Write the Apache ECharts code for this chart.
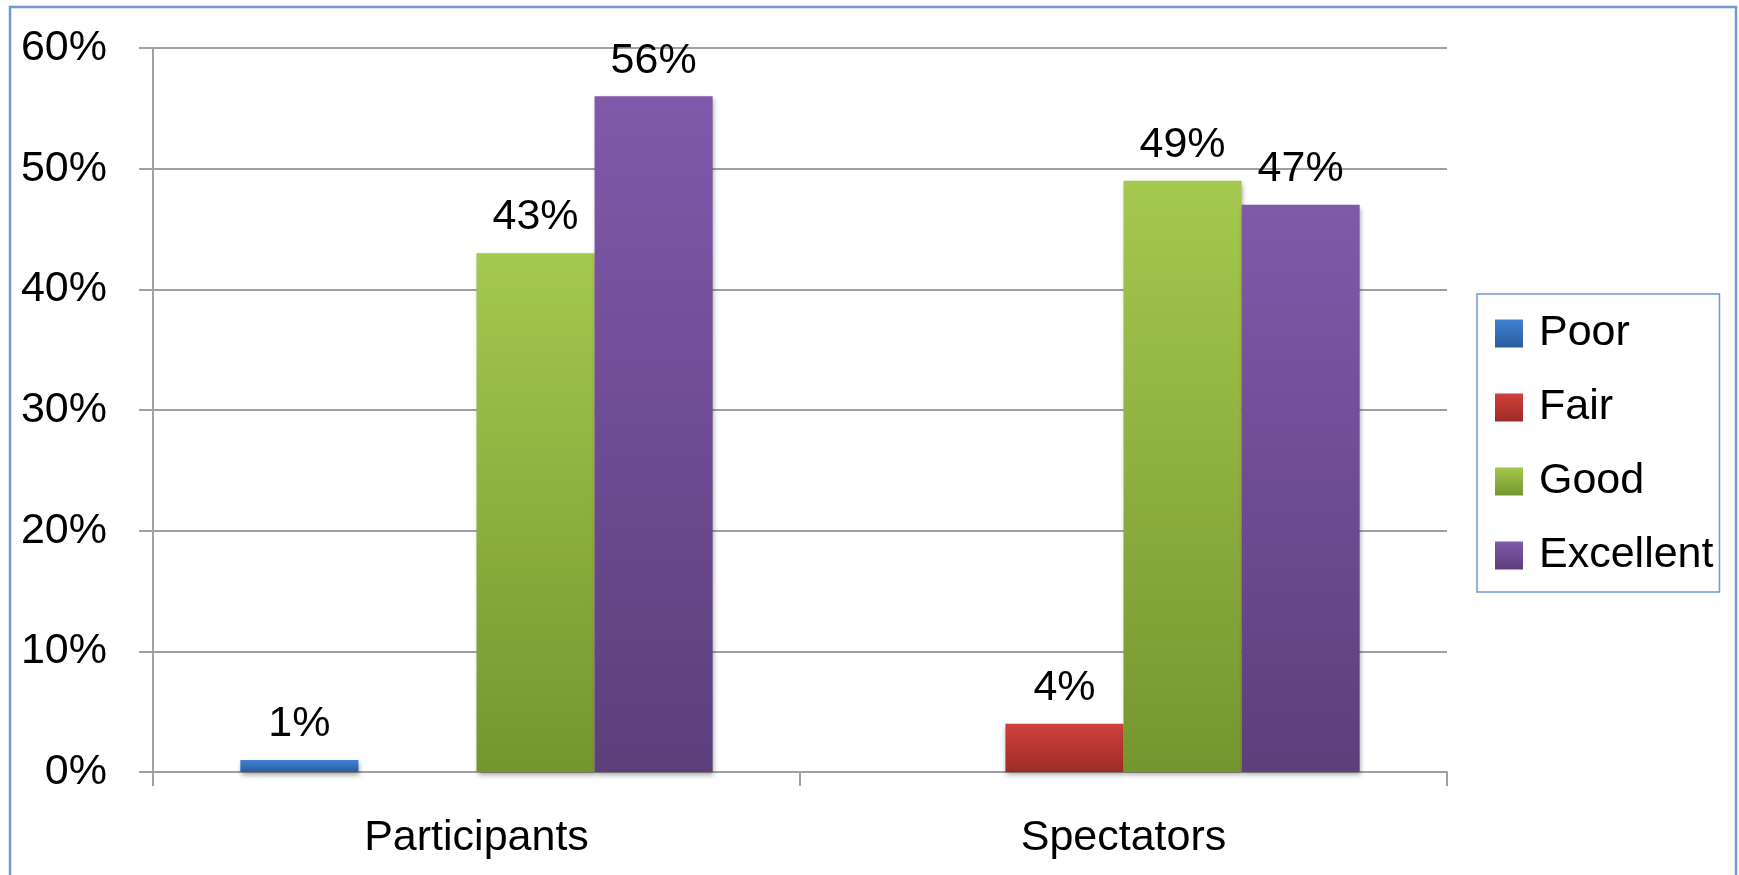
<!DOCTYPE html>
<html>
<head>
<meta charset="utf-8">
<title>Ratings: Participants vs Spectators</title>
<script src="https://cdn.jsdelivr.net/npm/echarts@6/dist/echarts.min.js"></script>
<style>
  html, body { margin: 0; padding: 0; background: #ffffff; }
  #chart { width: 1739px; height: 875px; }
</style>
</head>
<body>
<div id="chart"></div>
<script>
// Groups along the x axis
const categories = ['Participants', 'Spectators'];

// Share of respondents per rating (percent); null = no bar
const poor      = [1, null];
const fair      = [null, 4];
const good      = [43, 49];
const excellent = [56, 47];

// Y axis range and step (percent)
const yMin = 0;
const yMax = 60;
const yStep = 10;

const FONT = 'Liberation Sans, Arial, sans-serif';
const FS = 43;

function grad(top, bottom) {
  return new echarts.graphic.LinearGradient(0, 0, 0, 1, [
    { offset: 0, color: top },
    { offset: 1, color: bottom }
  ]);
}

function barSeries(name, data, top, bottom) {
  return {
    name: name,
    type: 'bar',
    data: data,
    barGap: '0%',
    barCategoryGap: '27%',
    itemStyle: {
      color: grad(top, bottom),
      shadowColor: 'rgba(0,0,0,0.35)',
      shadowBlur: 5,
      shadowOffsetX: 1,
      shadowOffsetY: 3
    },
    label: {
      show: true,
      position: 'top',
      distance: 14,
      formatter: '{c}%',
      color: '#000',
      fontFamily: FONT,
      fontSize: FS,
      lineHeight: FS
    },
    emphasis: { disabled: true }
  };
}

const chart = echarts.init(document.getElementById('chart'), null, { renderer: 'canvas' });

chart.setOption({
  animation: false,
  backgroundColor: '#ffffff',
  graphic: [{
    type: 'rect',
    shape: { x: 10, y: 7, width: 1726, height: 900 },
    style: { fill: 'none', stroke: '#6f9ad2', lineWidth: 2.5 },
    silent: true,
    z: 0
  }],
  grid: { left: 153, right: 292, top: 48, bottom: 103, containLabel: false },
  legend: {
    orient: 'vertical',
    left: 1477,
    top: 294,
    padding: [18, 6, 15, 18],
    itemGap: 31,
    itemWidth: 28,
    itemHeight: 28,
    icon: 'rect',
    borderColor: '#6f9ad2',
    borderWidth: 1.5,
    selectedMode: false,
    textStyle: {
      color: '#000',
      fontFamily: FONT,
      fontSize: FS,
      lineHeight: FS,
      padding: [0, 0, 0, 11]
    },
    data: ['Poor', 'Fair', 'Good', 'Excellent']
  },
  xAxis: {
    type: 'category',
    data: categories,
    axisLine: { show: true, lineStyle: { color: '#a0a0a0', width: 2 } },
    axisTick: { show: true, length: 14, alignWithLabel: false, lineStyle: { color: '#a0a0a0', width: 2 } },
    axisLabel: {
      margin: 45,
      color: '#000',
      fontFamily: FONT,
      fontSize: FS,
      lineHeight: FS
    }
  },
  yAxis: {
    type: 'value',
    min: yMin,
    max: yMax,
    interval: yStep,
    axisLine: { show: true, lineStyle: { color: '#a0a0a0', width: 2 } },
    axisTick: { show: true, length: 14, lineStyle: { color: '#a0a0a0', width: 2 } },
    splitLine: { show: true, lineStyle: { color: '#a0a0a0', width: 2 } },
    axisLabel: {
      margin: 46,
      formatter: '{value}%',
      color: '#000',
      fontFamily: FONT,
      fontSize: FS,
      lineHeight: FS
    }
  },
  series: [
    barSeries('Poor', poor, '#3f82d4', '#2b5c9c'),
    barSeries('Fair', fair, '#d0403c', '#9e2b28'),
    barSeries('Good', good, '#a5c84f', '#75962e'),
    barSeries('Excellent', excellent, '#8059aa', '#5c3f7b')
  ]
});
</script>
</body>
</html>
